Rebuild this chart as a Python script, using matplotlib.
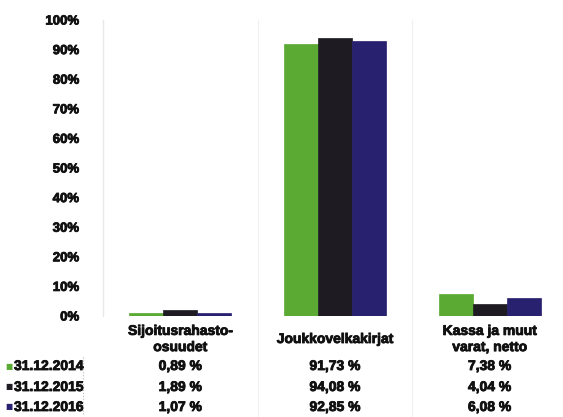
import matplotlib.pyplot as plt
import matplotlib.transforms as mtransforms
import matplotlib.patheffects as pe

categories = ["Sijoitusrahasto-\nosuudet", "Joukkovelkakirjat", "Kassa ja muut\nvarat, netto"]
series_names = ["31.12.2014", "31.12.2015", "31.12.2016"]
values_2014 = [0.89, 91.73, 7.38]
values_2015 = [1.89, 94.08, 4.04]
values_2016 = [1.07, 92.85, 6.08]
value_labels_2014 = ["0,89 %", "91,73 %", "7,38 %"]
value_labels_2015 = ["1,89 %", "94,08 %", "4,04 %"]
value_labels_2016 = ["1,07 %", "92,85 %", "6,08 %"]
yticks = [0, 10, 20, 30, 40, 50, 60, 70, 80, 90, 100]
ytick_labels = ["0%", "10%", "20%", "30%", "40%", "50%", "60%", "70%", "80%", "90%", "100%"]

colors = ["#5aaa34", "#1f1b22", "#28216f"]
series = [values_2014, values_2015, values_2016]
labels = [value_labels_2014, value_labels_2015, value_labels_2016]

W, H = 563, 417
fig = plt.figure(figsize=(W / 100, H / 100), dpi=100)
# plot area: x 103..567 px, y 20..316 px (from top)
ax = fig.add_axes([103 / W, 1 - 316 / H, (567 - 103) / W, (316 - 20) / H])

bw = 0.22
for i, (vals, c) in enumerate(zip(series, colors)):
    xs = [k + (i - 1) * bw for k in range(len(categories))]
    ax.bar(xs, vals, width=bw, color=c, edgecolor=c, linewidth=0.5)

heavy = [pe.withStroke(linewidth=0.6, foreground="#111111")]

ax.set_xlim(-0.5, 2.5)
ax.set_ylim(0, 100)
ax.set_yticks(yticks)
ax.set_yticklabels(ytick_labels, fontsize=9.5, fontweight="bold",
                   family=["Liberation Sans", "DejaVu Sans"], color="#111111")
for t in ax.get_yticklabels():
    t.set_path_effects(heavy)
ax.tick_params(axis="y", length=0, pad=17)
ax.set_xticks([])
for s in ["top", "right", "bottom"]:
    ax.spines[s].set_visible(False)
ax.spines["left"].set_color("#e8e8e8")
ax.spines["left"].set_linewidth(1.0)

# faint category separators running through the data table
trans = mtransforms.blended_transform_factory(ax.transData, fig.transFigure)
for xb in [0.5, 1.5]:
    ax.plot([xb, xb], [1 - 20 / H, 0], transform=trans, color="#f0f0f0",
            linewidth=0.8, clip_on=False)

font = dict(fontsize=10, fontweight="bold", family=["Liberation Sans", "DejaVu Sans"],
            color="#111111", path_effects=heavy)

# data table: category header
for k, cat in enumerate(categories):
    ax.text(k, 1 - 339 / H, cat, transform=trans, ha="center", va="center",
            linespacing=1.2, **font)

# data table rows
row_y = [366, 387, 407]
for i, (name, c, labs) in enumerate(zip(series_names, colors, labels)):
    y = 1 - row_y[i] / H
    fig.text(5 / W, y, "\u25a0", color=c, fontsize=5.5, ha="left", va="center",
             family="DejaVu Sans")
    fig.text(14 / W, y, name, ha="left", va="center", **font)
    for k, lab in enumerate(labs):
        ax.text(k, y, lab, transform=trans, ha="center", va="center", **font)

fig.add_artist(plt.Line2D([83 / W, 83 / W], [1 - 357 / H, 1 - 415 / H],
                          color="#bbbbbb", linewidth=0.8, linestyle=":"))

fig.savefig("out.png", dpi=100)
